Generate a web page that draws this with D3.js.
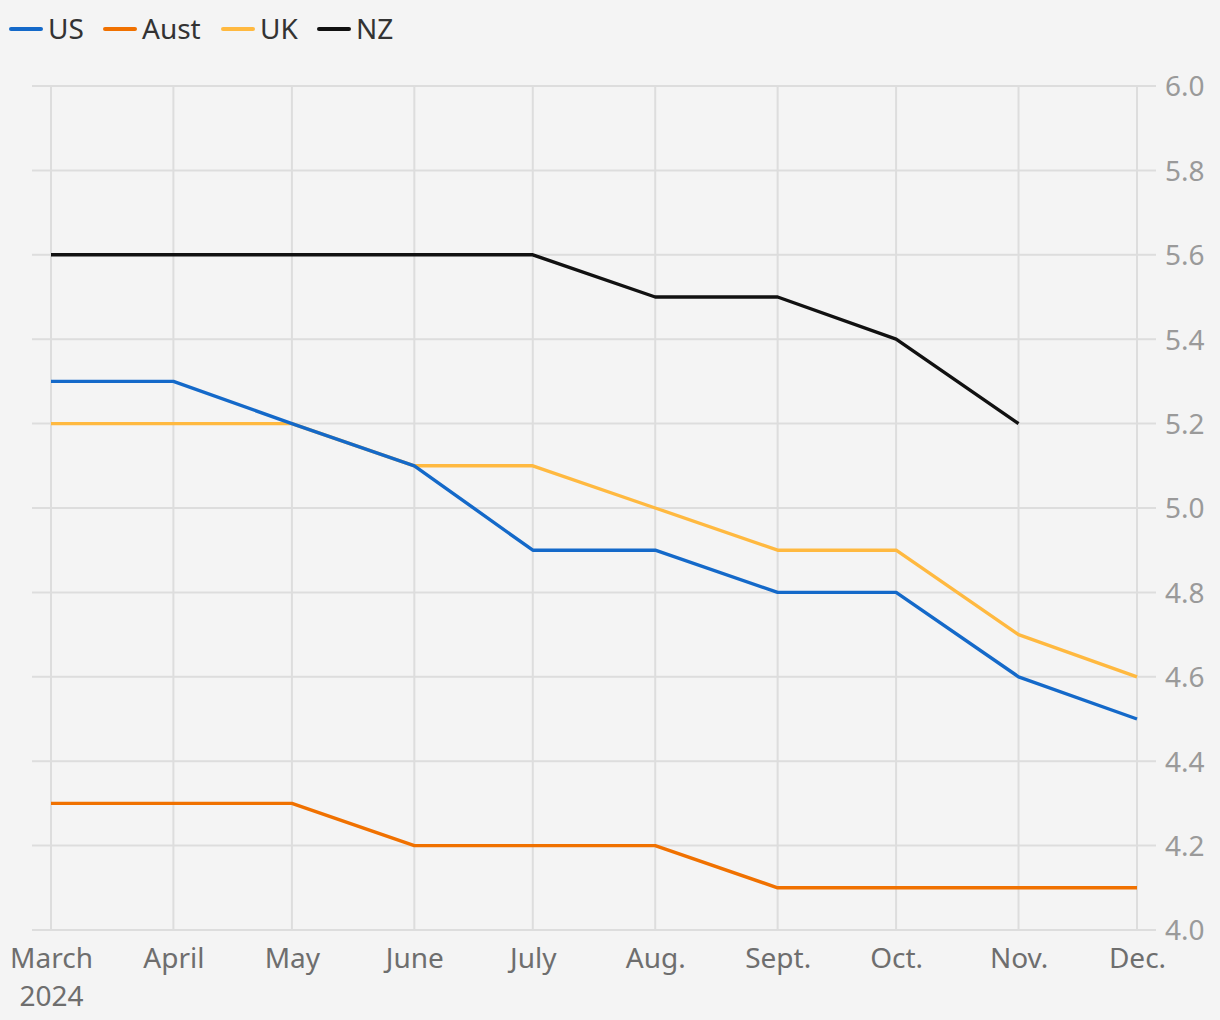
<!DOCTYPE html>
<html><head><meta charset="utf-8">
<script src="https://cdn.jsdelivr.net/npm/d3@7"></script>
<style>
html,body{margin:0;padding:0;background:#f4f4f4;}
svg{display:block;font-family:"Noto Sans",sans-serif;}
</style></head>
<body><svg id="c" width="1220" height="1020"></svg>
<script>
const months = ["2024-03-01","2024-04-01","2024-05-01","2024-06-01","2024-07-01","2024-08-01","2024-09-01","2024-10-01","2024-11-01","2024-12-01"];
const monthLabels = ["March","April","May","June","July","Aug.","Sept.","Oct.","Nov.","Dec."];
const yearLabel = "2024";
const usValues   = [5.3,5.3,5.2,5.1,4.9,4.9,4.8,4.8,4.6,4.5];
const austValues = [4.3,4.3,4.3,4.2,4.2,4.2,4.1,4.1,4.1,4.1];
const ukValues   = [5.2,5.2,5.2,5.1,5.1,5.0,4.9,4.9,4.7,4.6];
const nzValues   = [5.6,5.6,5.6,5.6,5.6,5.5,5.5,5.4,5.2,null];
const seriesNames = ["US","Aust","UK","NZ"];
const seriesColors = ["#1469c9","#f07100","#ffb940","#111111"];
const yTicks = [4.0,4.2,4.4,4.6,4.8,5.0,5.2,5.4,5.6,5.8,6.0];

const parse = d3.timeParse("%Y-%m-%d");
const dates = months.map(parse);
const series = [usValues, austValues, ukValues, nzValues];

const svg = d3.select("#c");
const x = d3.scaleTime().domain([dates[0], dates[dates.length-1]]).range([51,1137]);
const y = d3.scaleLinear().domain([4,6]).range([930,86]);

const grid = svg.append("g");
grid.selectAll("line.h").data(yTicks).join("line")
  .attr("x1",32).attr("x2",1156)
  .attr("y1",d=>y(d)).attr("y2",d=>y(d))
  .attr("stroke","#dddddd").attr("stroke-width",2);
grid.selectAll("line.v").data(dates).join("line")
  .attr("x1",d=>x(d)).attr("x2",d=>x(d))
  .attr("y1",y(6)).attr("y2",y(4))
  .attr("stroke","#dddddd").attr("stroke-width",2);

const yAxis = d3.axisRight(y).tickValues(yTicks).tickFormat(d3.format(".1f")).tickSize(0).tickPadding(0);
const ya = svg.append("g").attr("transform","translate(1165,0)").call(yAxis);
ya.select(".domain").remove();
ya.selectAll("text").attr("fill","#9a9a9a").style("font-size","28px").style("font-family","'Noto Sans',sans-serif").attr("dy","0.35em");

const xAxis = d3.axisBottom(x).tickValues(dates).tickFormat((d,i)=>monthLabels[i]).tickSize(0).tickPadding(0);
const xa = svg.append("g").attr("transform","translate(0,948)").call(xAxis);
xa.select(".domain").remove();
xa.selectAll("text").attr("fill","#6e6e6e").style("font-size","28px").style("font-family","'Noto Sans',sans-serif").attr("dy","0.71em");
// year line under the first month
xa.select(".tick").append("text")
  .attr("fill","#6e6e6e").style("font-size","28px").style("font-family","'Noto Sans',sans-serif")
  .attr("y",0).attr("dy","2.08em").text(yearLabel);

const line = d3.line().defined(d=>d.v!=null).x(d=>x(d.d)).y(d=>y(d.v));
const drawOrder = [3,2,1,0];
drawOrder.forEach(i=>{
  const vals = series[i];
  svg.append("path").datum(vals.map((v,j)=>({d:dates[j],v})))
    .attr("d",line).attr("fill","none").attr("stroke",seriesColors[i])
    .attr("stroke-width",3.4).attr("stroke-linejoin","round");
});

const legX = [10,104,222,318];
const leg = svg.append("g");
seriesNames.forEach((n,i)=>{
  leg.append("line").attr("x1",legX[i]+1).attr("x2",legX[i]+31).attr("y1",29).attr("y2",29)
    .attr("stroke",seriesColors[i]).attr("stroke-width",4).attr("stroke-linecap","round");
  leg.append("text").attr("x",legX[i]+38).attr("y",29).attr("dy","0.35em")
    .attr("fill","#333").style("font-size","28px").text(n);
});
</script></body></html>
